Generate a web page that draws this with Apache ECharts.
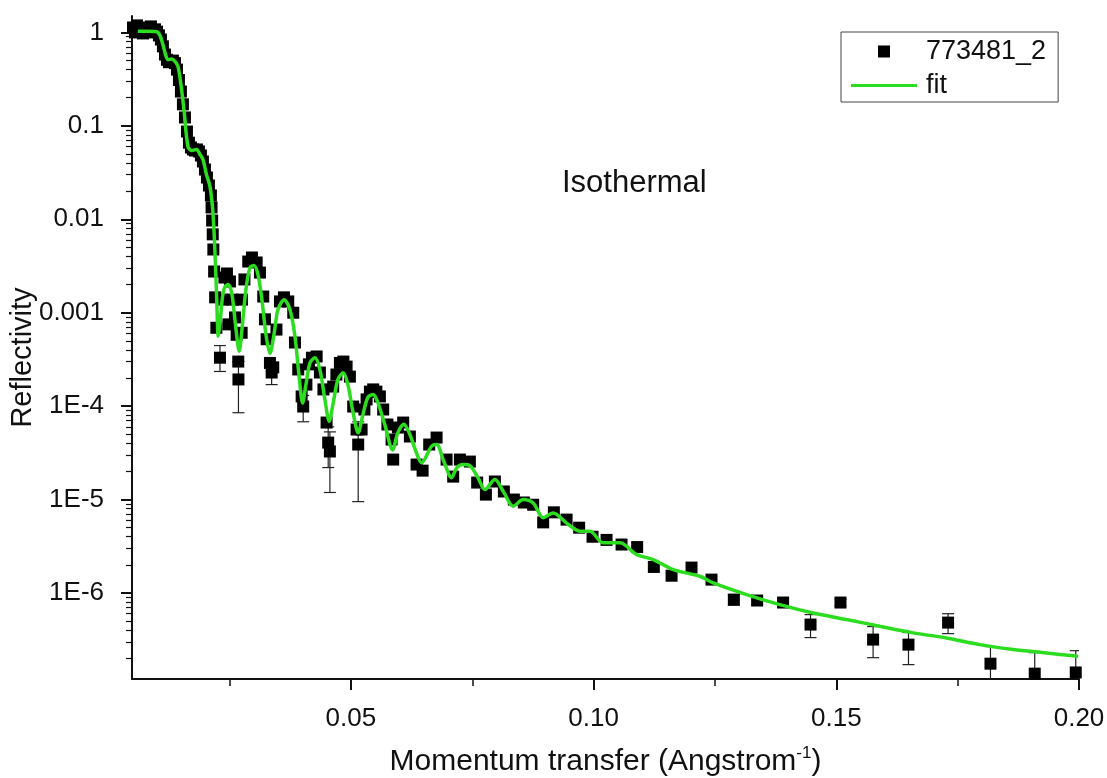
<!DOCTYPE html>
<html>
<head>
<meta charset="utf-8">
<title>Reflectivity</title>
<script src="https://cdn.jsdelivr.net/npm/echarts@6/dist/echarts.min.js"></script>
<style>
  html, body { margin: 0; padding: 0; background: #fff; }
  #chart { width: 1107px; height: 778px; }
</style>
</head>
<body>
<div id="chart"></div>
<script>
// measured points (q in 1/Angstrom, reflectivity)
const dataQ = [
  0.0051, 0.00551, 0.00592, 0.00633, 0.00674, 0.00716, 0.00757, 0.00798, 0.00839, 0.0088,
  0.00921, 0.00963, 0.01004, 0.01045, 0.01086, 0.01127, 0.01169, 0.0121, 0.01251, 0.01292,
  0.01333, 0.01375, 0.01416, 0.01457, 0.01498, 0.01539, 0.01581, 0.01622, 0.01663, 0.01704,
  0.01745, 0.01787, 0.01828, 0.01869, 0.0191, 0.01951, 0.01993, 0.02034, 0.02075, 0.02116,
  0.02129, 0.02141, 0.02153, 0.02166, 0.02182, 0.02203, 0.02228,
  0.02302, 0.02353, 0.02394, 0.02446, 0.02508, 0.02477, 0.02559, 0.02611, 0.02646, 0.02679,
  0.02683, 0.02749, 0.02755, 0.02806, 0.02885, 0.02961, 0.03058, 0.03126, 0.03194, 0.03229,
  0.03264, 0.03332, 0.03367, 0.034, 0.03466, 0.03538, 0.0362, 0.03709, 0.03812, 0.03847,
  0.03915, 0.03985, 0.04017, 0.04083, 0.04135, 0.04197, 0.04294, 0.04361, 0.04434, 0.04499,
  0.04532, 0.04567, 0.04635, 0.04701, 0.04773, 0.04845, 0.04911, 0.04979, 0.05047, 0.05117,
  0.0515, 0.0522, 0.05278, 0.05323, 0.05391, 0.05459, 0.05525, 0.05597, 0.05665, 0.05752,
  0.05838, 0.05871, 0.05968, 0.06077, 0.06215, 0.06353, 0.06477, 0.06613, 0.06765, 0.06971,
  0.07107, 0.07245, 0.07451, 0.07601, 0.07781, 0.07966, 0.08151, 0.08357, 0.08563, 0.08755,
  0.08961, 0.09181, 0.09443, 0.09702, 0.09978, 0.10267, 0.10576, 0.10897, 0.11241, 0.11606,
  0.12017, 0.12429, 0.12889, 0.13369, 0.13904, 0.14469, 0.15086, 0.15758, 0.16487, 0.17303,
  0.18176, 0.19088, 0.19933
];
const dataR = [
  1.13, 1.00, 1.19, 1.05, 1.10, 0.976, 1.13, 1.02, 1.08, 1.16,
  1.00, 1.08, 1.02, 0.93, 0.84, 0.71, 0.58, 0.51, 0.48, 0.49,
  0.50, 0.47, 0.40, 0.31, 0.233, 0.170, 0.123, 0.087, 0.066, 0.0587,
  0.0559, 0.0545, 0.0559, 0.0532, 0.0482, 0.0416, 0.0341, 0.0280, 0.0230, 0.0180,
  0.0134, 0.0097, 0.0069, 0.00475, 0.00276, 0.00146, 0.00069,
  3.3e-4, 1.38e-3, 2.38e-3, 2.63e-3, 2.16e-3, 7.5e-4, 1.38e-3, 8.9e-4, 5.8e-4, 3.0e-4,
  1.93e-4, 6.1e-4, 1.38e-3, 2.27e-3, 3.53e-3, 3.9e-3, 3.45e-3, 2.69e-3, 1.49e-3, 8.5e-4,
  5.2e-4, 2.9e-4, 2.29e-4, 2.6e-4, 6.6e-4, 1.32e-3, 1.46e-3, 1.32e-3, 1.0e-3, 4.8e-4,
  2.47e-4, 1.27e-4, 9.9e-5, 1.7e-4, 2.8e-4, 3.3e-4, 3.4e-4, 2.29e-4, 1.51e-4, 6.67e-5,
  4.07e-5, 3.27e-5, 1.62e-4, 2.18e-4, 2.9e-4, 3.0e-4, 2.65e-4, 2.07e-4, 9.9e-5, 5.62e-5,
  3.88e-5, 5.62e-5, 9.2e-5, 1.18e-4, 1.43e-4, 1.51e-4, 1.43e-4, 1.27e-4, 9.2e-5, 6.36e-5,
  4.39e-5, 2.68e-5, 5.9e-5, 6.67e-5, 4.73e-5, 2.37e-5, 2.04e-5, 3.88e-5, 4.61e-5, 2.68e-5,
  1.76e-5, 2.68e-5, 2.55e-5, 1.52e-5, 1.13e-5, 1.56e-5, 1.22e-5, 1.0e-5, 9.3e-6, 8.8e-6,
  5.7e-6, 7.3e-6, 6.1e-6, 5.0e-6, 4.0e-6, 3.7e-6, 3.3e-6, 3.1e-6, 1.9e-6, 1.53e-6,
  1.87e-6, 1.39e-6, 8.5e-7, 8.3e-7, 7.9e-7, 4.59e-7, 7.9e-7, 3.17e-7, 2.8e-7, 4.82e-7,
  1.75e-7, 1.37e-7, 1.41e-7
];

// error bars (q, lower, upper)
const errQ = [0.02302, 0.02683, 0.03367, 0.04017, 0.04532, 0.04567, 0.0515, 0.12889, 0.13369, 0.13904,
  0.14469, 0.15086, 0.15758, 0.16487, 0.17303, 0.18176, 0.19088, 0.19933];
const errLow = [2.35e-4, 8.5e-5, 1.7e-4, 6.8e-5, 2.2e-5, 1.19e-5, 9.5e-6, 7.4e-7, 7.5e-7, 7.2e-7,
  3.33e-7, 7.3e-7, 2.03e-7, 1.71e-7, 3.67e-7, 8e-8, 6e-8, 6e-8];
const errHigh = [4.45e-4, 3.0e-4, 2.9e-4, 1.3e-4, 6.0e-5, 5.3e-5, 6.8e-5, 9.6e-7, 9.1e-7, 8.7e-7,
  5.87e-7, 8.6e-7, 4.37e-7, 3.77e-7, 6.0e-7, 2.67e-7, 2.3e-7, 2.41e-7];

// fit curve
const fitQ = [
  0.0061, 0.008, 0.01, 0.01066, 0.01128, 0.0118, 0.01231, 0.01307, 0.01375, 0.01437,
  0.01498, 0.0156, 0.01643, 0.01725, 0.01822, 0.0189, 0.01952, 0.02024, 0.02096, 0.02147,
  0.02178, 0.02209, 0.02236, 0.02267, 0.02302, 0.02353, 0.02405, 0.02473, 0.02549, 0.02621,
  0.02699, 0.02755, 0.02837, 0.0292, 0.03002, 0.03084, 0.03167, 0.0325, 0.03332, 0.03414,
  0.03497, 0.03626, 0.03744, 0.03847, 0.03929, 0.04005, 0.04073, 0.04156, 0.04259, 0.04361,
  0.04464, 0.04553, 0.04629, 0.04732, 0.04841, 0.04938, 0.05041, 0.0515, 0.05247, 0.0535,
  0.05459, 0.05556, 0.057, 0.05859, 0.05968, 0.06092, 0.06215, 0.06339, 0.06456, 0.06662,
  0.06765, 0.06915, 0.07074, 0.07183, 0.07314, 0.07451, 0.07616, 0.0776, 0.07966, 0.08151,
  0.08343, 0.08549, 0.08755, 0.08961, 0.09167, 0.09443, 0.09717, 0.09923, 0.10197, 0.10541,
  0.10885, 0.11229, 0.1164, 0.12189, 0.12463, 0.13151, 0.13836, 0.14522, 0.1521, 0.15896,
  0.16583, 0.1727, 0.17956, 0.18642, 0.19329, 0.19981
];
const fitR = [
  1.03, 1.03, 1.02, 0.93, 0.74, 0.58, 0.51, 0.52, 0.49, 0.433,
  0.277, 0.150, 0.060, 0.0545, 0.056, 0.0494, 0.0437, 0.0302, 0.0225, 0.0137,
  0.0078, 0.0033, 1.38e-3, 5.6e-4, 7.5e-4, 1.46e-3, 1.9e-3, 2.0e-3, 1.57e-3, 7.5e-4,
  3.87e-4, 6.6e-4, 1.77e-3, 3.05e-3, 3.2e-3, 2.57e-3, 1.38e-3, 5.8e-4, 3.66e-4, 5.8e-4,
  1.08e-3, 1.38e-3, 1.08e-3, 5.6e-4, 2.18e-4, 1.08e-4, 1.7e-4, 2.9e-4, 3.29e-4, 2.47e-4,
  1.18e-4, 6.9e-5, 1.04e-4, 1.93e-4, 2.27e-4, 1.7e-4, 8.75e-5, 5.2e-5, 8.1e-5, 1.24e-4,
  1.33e-4, 1.09e-4, 6.3e-5, 3.4e-5, 5.2e-5, 6.4e-5, 4.97e-5, 3.27e-5, 2.47e-5, 3.72e-5,
  3.88e-5, 2.55e-5, 1.71e-5, 2.2e-5, 2.37e-5, 2.31e-5, 1.72e-5, 1.28e-5, 1.64e-5, 1.19e-5,
  8.5e-6, 1.0e-5, 9.2e-6, 6.4e-6, 7.2e-6, 5.6e-6, 4.58e-6, 4.58e-6, 3.44e-6, 3.44e-6,
  2.58e-6, 2.28e-6, 1.78e-6, 1.51e-6, 1.28e-6, 9.6e-7, 7.5e-7, 6.1e-7, 5.2e-7, 4.4e-7,
  3.74e-7, 3.3e-7, 2.8e-7, 2.48e-7, 2.28e-7, 2.1e-7
];

// axis ticks
const xTicks = [0.05, 0.10, 0.15, 0.20];
const xTickLabels = ["0.05", "0.10", "0.15", "0.20"];
const xMinorTicks = [0.025, 0.075, 0.125, 0.175];
const yTicks = [1, 0.1, 0.01, 0.001, 1e-4, 1e-5, 1e-6];
const yTickLabels = ["1", "0.1", "0.01", "0.001", "1E-4", "1E-5", "1E-6"];
const yMinorTicks = [];
for (let e = -7; e <= 0; e++) {
  for (let k = 2; k <= 9; k++) {
    const v = k * Math.pow(10, e);
    if (v > 1.2e-7 && v < 1.5) yMinorTicks.push(v);
  }
}

const FONT = "Liberation Sans, Arial, sans-serif";
const GREEN = "#2bdc1f";
const X_MIN = 0.0049, X_MAX = 0.2;
const Y_MIN = 1.2e-7, Y_MAX = 1.5;

const chart = echarts.init(document.getElementById("chart"));

function yLabel(v) {
  const i = yTicks.findIndex(t => Math.abs(Math.log10(t) - Math.log10(v)) < 1e-6);
  return i >= 0 ? yTickLabels[i] : "";
}
function xLabel(v) {
  const i = xTicks.findIndex(t => Math.abs(t - v) < 1e-9);
  return i >= 0 ? xTickLabels[i] : "";
}

function renderErr(params, api) {
  const x = api.value(0);
  const top = api.coord([x, api.value(2)]);
  const bot = api.coord([x, api.value(1)]);
  const w = 6;
  const st = { stroke: "#222", lineWidth: 1.2 };
  return {
    type: "group",
    children: [
      { type: "line", shape: { x1: top[0], y1: top[1], x2: bot[0], y2: bot[1] }, style: st },
      { type: "line", shape: { x1: top[0] - w, y1: top[1], x2: top[0] + w, y2: top[1] }, style: st },
      { type: "line", shape: { x1: bot[0] - w, y1: bot[1], x2: bot[0] + w, y2: bot[1] }, style: st }
    ]
  };
}

chart.setOption({
  animation: false,
  backgroundColor: "#fff",
  title: {
    text: "Isothermal",
    left: 562,
    top: 168,
    padding: 0,
    textStyle: { fontFamily: FONT, fontSize: 31, fontWeight: "normal", color: "#111" }
  },
  legend: {
    orient: "vertical",
    left: 841,
    top: 32,
    padding: [6, 12, 3, 10],
    borderColor: "#444",
    borderWidth: 1,
    itemWidth: 66,
    itemHeight: 12,
    itemGap: 7,
    textStyle: { fontFamily: FONT, fontSize: 27, color: "#111", padding: [0, 0, 0, 4] },
    data: [
      { name: "773481_2", icon: "path://M0 0H10V10H0Z", itemStyle: { color: "#000", opacity: 1 } },
      { name: "fit", icon: "path://M0 0H66V3H0Z", itemStyle: { color: GREEN } }
    ]
  },
  grid: { left: 132, right: 28, top: 16, bottom: 99, containLabel: false, outerBoundsMode: "none" },
  xAxis: [
    {
      type: "value",
      min: X_MIN,
      max: X_MAX,
      position: "bottom",
      name: "Momentum transfer (Angstrom{sup|-1})",
      nameLocation: "middle",
      nameGap: 66,
      nameTextStyle: {
        fontFamily: FONT, fontSize: 30, color: "#111",
        rich: { sup: { fontFamily: FONT, fontSize: 17, color: "#111", padding: [0, 0, 16, 0] } }
      },
      axisLine: { lineStyle: { color: "#111", width: 2 } },
      axisTick: { customValues: xTicks, length: 11, lineStyle: { color: "#111", width: 2 } },
      axisLabel: {
        customValues: xTicks, formatter: xLabel, margin: 27,
        fontFamily: FONT, fontSize: 26, color: "#111"
      },
      splitLine: { show: false }
    },
    {
      type: "value",
      min: X_MIN,
      max: X_MAX,
      position: "bottom",
      axisLine: { show: false },
      axisTick: { customValues: xMinorTicks, length: 7, lineStyle: { color: "#111", width: 1.5 } },
      axisLabel: { show: false },
      splitLine: { show: false }
    }
  ],
  yAxis: [
    {
      type: "log",
      logBase: 10,
      min: Y_MIN,
      max: Y_MAX,
      position: "left",
      name: "Reflectivity",
      nameLocation: "middle",
      nameGap: 95,
      nameMoveOverlap: false,
      nameTextStyle: { fontFamily: FONT, fontSize: 29, color: "#111", padding: [0, 20, 0, 0] },
      axisLine: { lineStyle: { color: "#111", width: 2 } },
      axisTick: { customValues: yTicks, length: 11, lineStyle: { color: "#111", width: 2 } },
      axisLabel: {
        customValues: yTicks, formatter: yLabel, margin: 28,
        fontFamily: FONT, fontSize: 26, color: "#111"
      },
      splitLine: { show: false }
    },
    {
      type: "log",
      logBase: 10,
      min: Y_MIN,
      max: Y_MAX,
      position: "left",
      axisLine: { show: false },
      axisTick: { customValues: yMinorTicks, length: 6, lineStyle: { color: "#111", width: 1.2 } },
      axisLabel: { show: false },
      splitLine: { show: false }
    }
  ],
  series: [
    {
      name: "errors",
      type: "custom",
      clip: true,
      z: 1,
      renderItem: renderErr,
      encode: { x: 0, y: [1, 2] },
      data: errQ.map((q, i) => [q, errLow[i], errHigh[i]])
    },
    {
      name: "773481_2",
      type: "scatter",
      symbol: "rect",
      symbolSize: 12,
      z: 2,
      itemStyle: { color: "#000", opacity: 1 },
      data: dataQ.map((q, i) => [q, dataR[i]])
    },
    {
      name: "fit",
      type: "line",
      symbol: "none",
      smooth: 0.3,
      z: 3,
      lineStyle: { color: GREEN, width: 3.5 },
      itemStyle: { color: GREEN },
      data: fitQ.map((q, i) => [q, fitR[i]])
    }
  ]
});
</script>
</body>
</html>
